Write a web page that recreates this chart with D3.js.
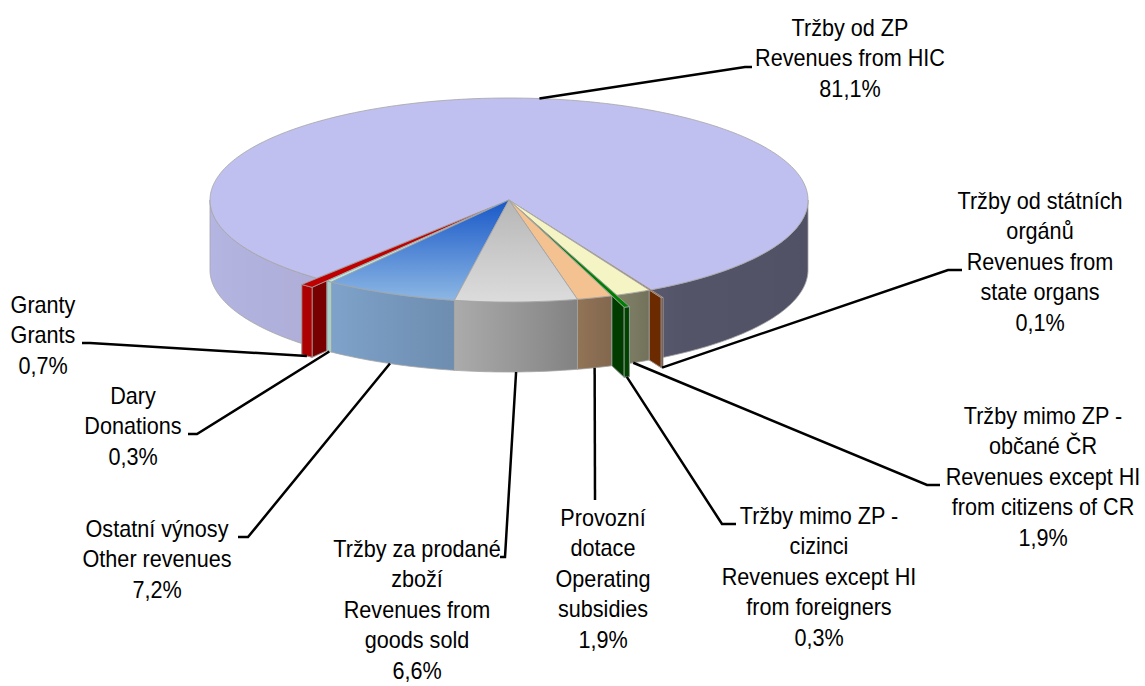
<!DOCTYPE html>
<html>
<head>
<meta charset="utf-8">
<script src="https://cdn.jsdelivr.net/npm/d3@7"></script>
<style>
  body { margin: 0; background: #fff; }
  .lbl { font-family: "Liberation Sans", Arial, sans-serif; font-size: 23px; fill: #000; }
</style>
</head>
<body>
<div class="pie3d"></div>
<script>

// slices, clockwise, starting with HIC
var categories = [
  "Tržby od ZP\nRevenues from HIC",
  "Tržby od státních\norgánů\nRevenues from\nstate organs",
  "Tržby mimo ZP -\nobčané ČR\nRevenues except HI\nfrom citizens of CR",
  "Tržby mimo ZP -\ncizinci\nRevenues except HI\nfrom foreigners",
  "Provozní\ndotace\nOperating\nsubsidies",
  "Tržby za prodané\nzboží\nRevenues from\ngoods sold",
  "Ostatní výnosy\nOther revenues",
  "Dary\nDonations",
  "Granty\nGrants"
];
var shares = [81.1, 0.1, 1.9, 0.3, 1.9, 6.6, 7.2, 0.3, 0.7];

// look of each slice
var topColor  = ["#c0c0f0", "#a84410", "#f4f4c4", "#008000", "#f4c291", "#dadada", "#8cb4e0", "#b8e8e2", "#c00000"];
var topGrad   = [null, null, null, null, null, ["#b6b6b6", "#dcdcdc"], ["#1858c8", "#8eb8e4"], null, null];
var wallColor = ["#9090c0", "#6b2a00", "#7a7a62", "#003c00", "#8a6a50", "#999999", "#6f8eaa", "#9ccac4", "#780000"];
var explode   = [0, 0.085, 0, 0.12, 0, 0, 0, 0, 0.08];

// where the labels sit (centre x, first baseline) and where leader lines end
var labelAt = [
  {x: 850, y: 36}, {x: 1040, y: 209}, {x: 1043, y: 424}, {x: 819, y: 524},
  {x: 603, y: 526}, {x: 417, y: 557}, {x: 157, y: 537}, {x: 133, y: 404}, {x: 43, y: 313}
];
var leaderTo = [
  [[745, 67], [752, 67]],
  [[948, 270], [962, 270]],
  [[927, 485], [940, 485]],
  [[722, 524], [736, 524]],
  [[595, 500]],
  [[505, 557], [500, 557]],
  [[248, 537], [238, 537]],
  [[197, 434], [188, 434]],
  [[90, 343], [82, 343]]
];

var width = 1145, height = 686;
var cx = 509, cy = 200, rx = 299, ry = 102, depth = 70;

var svg = d3.select(".pie3d")
  .append("svg")
    .attr("width", width)
    .attr("height", height);

var defs = svg.append("defs");
var gPie = svg.append("g");

var a0 = 220 * Math.PI / 180;
var pie = d3.pie().sort(null).startAngle(a0).endAngle(a0 + 2 * Math.PI);
var arcs = pie(shares);

function rad(a) { return a * Math.PI / 180; }
function norm(a) { return ((a % 360) + 360) % 360; }

arcs.forEach(function(d, i) {
  d.i = i;
  d.s = d.startAngle * 180 / Math.PI - 90;   // screen degrees, clockwise from 3 o'clock
  d.t = d.endAngle * 180 / Math.PI - 90;
  d.mid = (d.s + d.t) / 2;
  d.e = explode[i];
  d.ox = rx * d.e * Math.cos(rad(d.mid));
  d.oy = ry * d.e * Math.sin(rad(d.mid));
});

function pt(d, ang, r, z) {
  return [cx + d.ox + rx * r * Math.cos(rad(ang)), cy + d.oy + ry * r * Math.sin(rad(ang)) + z];
}
function arcPts(d, lo, hi, r, z) {
  var n = Math.max(2, Math.ceil(Math.abs(hi - lo)));
  var out = [];
  for (var k = 0; k <= n; k++) out.push(pt(d, lo + (hi - lo) * k / n, r, z));
  return out;
}

var line = d3.line();
var shade = d3.scaleLinear()
  .domain([0, 60, 65, 73, 77, 100, 126, 180])
  .range([0.42, 0.44, 0.5, 0.56, 0.6, 0.78, 0.9, 0.95])
  .clamp(true);

function mul(c, s) {
  var k = d3.rgb(c);
  return d3.rgb(k.r * s, k.g * s, k.b * s).formatHex();
}

var gradN = 0;
function sideFill(d, lo, hi) {
  var id = "side" + (gradN++);
  var xs = [];
  for (var k = 0; k <= 8; k++) {
    var a = lo + (hi - lo) * k / 8;
    xs.push({x: pt(d, a, 1, 0)[0], c: mul(topColor[d.i], shade(norm(a)))});
  }
  xs.sort(function(p, q) { return p.x - q.x; });
  var x1 = xs[0].x, x2 = xs[xs.length - 1].x;
  var g = defs.append("linearGradient").attr("id", id)
    .attr("gradientUnits", "userSpaceOnUse")
    .attr("x1", x1).attr("x2", x2).attr("y1", 0).attr("y2", 0);
  xs.forEach(function(p) {
    g.append("stop").attr("offset", x2 > x1 ? (p.x - x1) / (x2 - x1) : 0).attr("stop-color", p.c);
  });
  return "url(#" + id + ")";
}

function drawPoly(pts, fill) {
  gPie.append("path")
    .attr("d", line(pts) + "Z")
    .attr("fill", fill)
    .attr("stroke", "#a4a4a4")
    .attr("stroke-width", 0.8)
    .attr("stroke-linejoin", "round");
}

function drawWalls(d, r0) {
  // start wall faces towards smaller angles, end wall towards larger
  [[d.s, d.s - 90], [d.t, d.t + 90]].forEach(function(w) {
    if (Math.sin(rad(w[1])) <= 0) return;
    drawPoly([pt(d, w[0], r0, 0), pt(d, w[0], 1, 0), pt(d, w[0], 1, depth), pt(d, w[0], r0, depth)], wallColor[d.i]);
  });
}

function drawSide(d) {
  [0, 360].forEach(function(k) {
    var lo = Math.max(d.s, k), hi = Math.min(d.t, k + 180);
    if (hi <= lo) return;
    var pts = arcPts(d, lo, hi, 1, 0).concat(arcPts(d, hi, lo, 1, depth));
    drawPoly(pts, sideFill(d, lo, hi));
  });
}

function drawTop(d) {
  var fill = topColor[d.i];
  if (topGrad[d.i]) {
    var id = "top" + d.i;
    var g = defs.append("linearGradient").attr("id", id)
      .attr("gradientUnits", "userSpaceOnUse")
      .attr("x1", cx).attr("x2", cx).attr("y1", cy).attr("y2", cy + ry);
    g.append("stop").attr("offset", 0).attr("stop-color", topGrad[d.i][0]);
    g.append("stop").attr("offset", 1).attr("stop-color", topGrad[d.i][1]);
    fill = "url(#" + id + ")";
  }
  drawPoly([pt(d, 0, 0, 0)].concat(arcPts(d, d.s, d.t, 1, 0)), fill);
}

// painter's order: back to front
var order = arcs.slice().sort(function(p, q) { return Math.sin(rad(p.mid)) - Math.sin(rad(q.mid)); });

order.forEach(function(d) { drawWalls(d, 0); drawSide(d); });
order.filter(function(d) { return d.e > 0; }).forEach(function(d) {
  drawWalls(d, 1 - d.e);
  drawSide(d);
});
order.forEach(drawTop);

// leader lines + labels
var fmt = d3.format(".1f");
arcs.forEach(function(d) {
  var front = Math.sin(rad(d.mid)) > 0;
  var start = pt(d, d.mid, 1, front ? depth : 0);
  svg.append("path")
    .attr("d", line([start].concat(leaderTo[d.i])))
    .attr("fill", "none")
    .attr("stroke", "#000")
    .attr("stroke-width", 2.5);

  var lines = categories[d.i].split("\n").concat([fmt(shares[d.i]).replace(".", ",") + "%"]);
  var t = svg.append("text")
    .attr("class", "lbl")
    .attr("text-anchor", "middle")
    .attr("transform", "translate(" + labelAt[d.i].x + ",0) scale(0.94,1)");
  lines.forEach(function(s, k) {
    t.append("tspan")
      .attr("x", 0)
      .attr("y", labelAt[d.i].y + k * 30.5)
      .text(s);
  });
});

</script>
</body>
</html>
